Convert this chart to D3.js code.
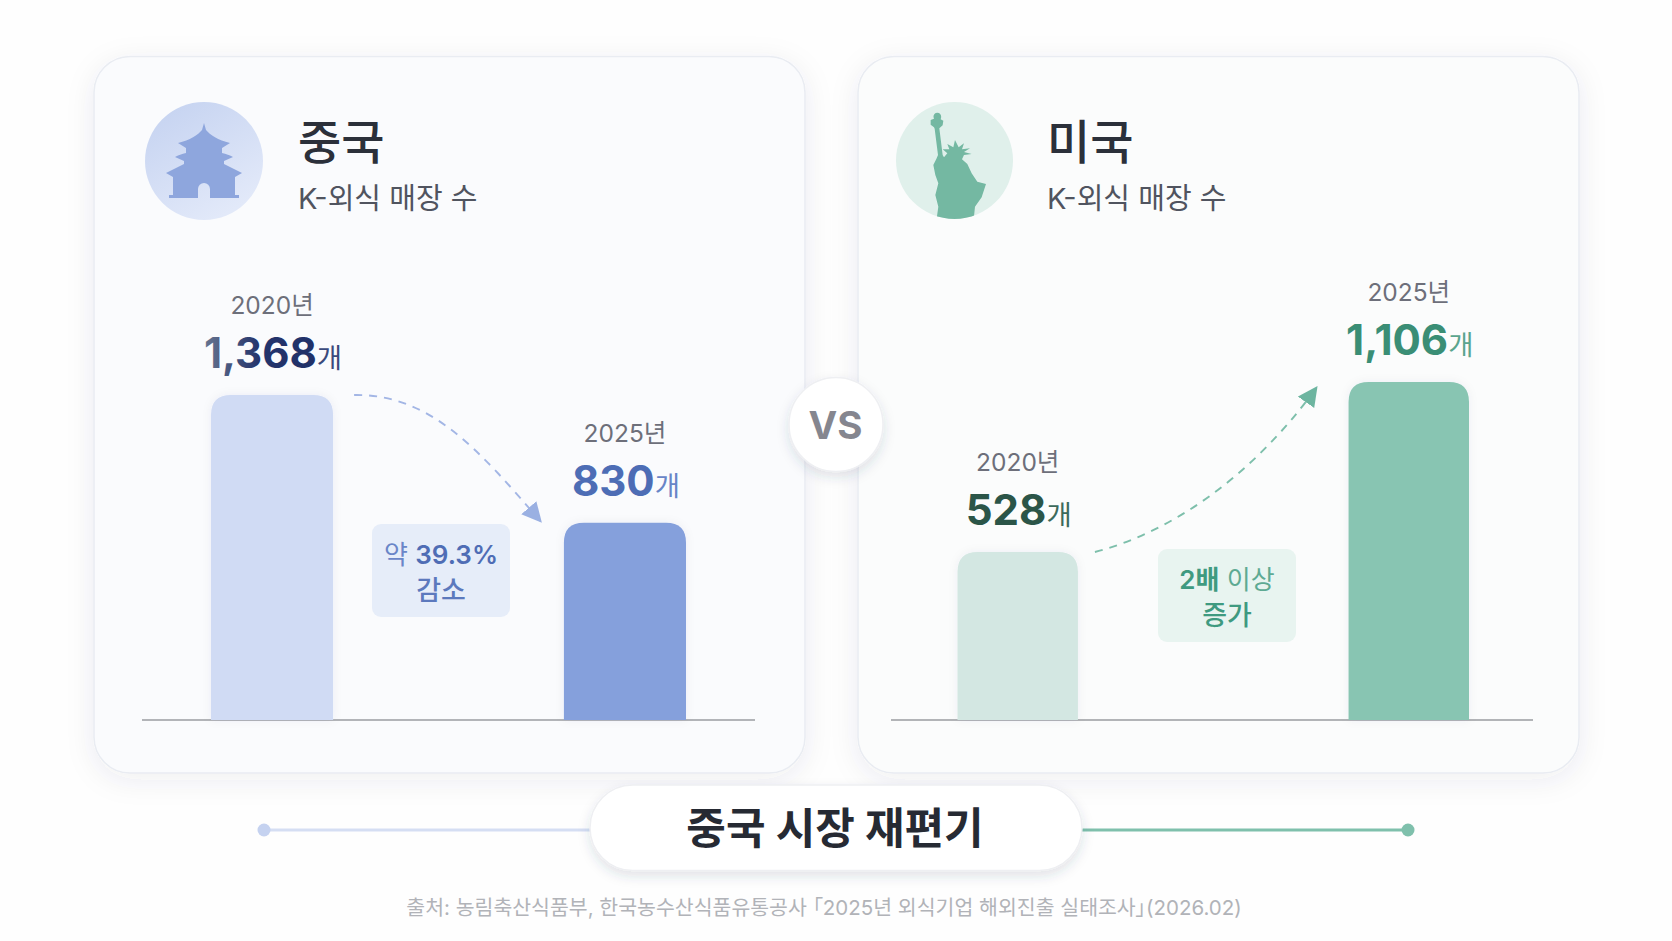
<!DOCTYPE html>
<html lang="ko">
<head>
  <meta charset="utf-8">
  <script src="https://d3js.org/d3.v7.min.js"></script>
  <style>
    body { margin:0; background:#fefefe; }
    svg { display:block; }
    text { font-family:Inter,"Noto Sans CJK KR",sans-serif; }
  </style>
</head>
<body>
  <script>
    // data
    var years = ["2020년", "2025년"];
    var chinaValues = [1368, 830];
    var usValues = [528, 1106];
    var panelSubtitle = "K-외식 매장 수";
    var chartTitle = "중국 시장 재편기";
    var sourceText = "출처: 농림축산식품부, 한국농수산식품유통공사 「2025년 외식기업 해외진출 실태조사」(2026.02)";

    var width = 1672, height = 941;
    var baseY = 720;
    var fmt = d3.format(",");

    var svg = d3.select("body").append("svg")
      .attr("width", width).attr("height", height);
    var defs = svg.append("defs");

    function shadow(id, dy, blur, op) {
      defs.append("filter").attr("id", id)
        .attr("x", "-20%").attr("y", "-20%").attr("width", "140%").attr("height", "140%")
        .append("feDropShadow")
        .attr("dx", 0).attr("dy", dy).attr("stdDeviation", blur)
        .attr("flood-color", "#39405a").attr("flood-opacity", op);
    }
    shadow("cardShadow", 6, 14, 0.08);
    shadow("pillShadow", 5, 6, 0.14);
    shadow("barShadow", 0, 5, 0.06);

    function gradient(id, stops, x2, y2) {
      var g = defs.append("linearGradient").attr("id", id)
        .attr("x1", 0).attr("y1", 0).attr("x2", x2).attr("y2", y2);
      stops.forEach(function(s) {
        g.append("stop").attr("offset", s[0]).attr("stop-color", s[1]);
      });
    }
    gradient("iconBlue", [[0, "#c3d1f0"], [1, "#e2e9f9"]], 0.6, 1);
    gradient("numNavy", [[0, "#66748f"], [0.4, "#24346c"], [1, "#1f2f66"]], 1, 0);

    svg.append("rect").attr("width", width).attr("height", height).attr("fill", "#fefefe");

    // bar with rounded top corners
    function barPath(x, y, w, r) {
      var p = d3.path();
      p.moveTo(x, baseY);
      p.lineTo(x, y + r);
      p.quadraticCurveTo(x, y, x + r, y);
      p.lineTo(x + w - r, y);
      p.quadraticCurveTo(x + w, y, x + w, y + r);
      p.lineTo(x + w, baseY);
      p.closePath();
      return p.toString();
    }

    function arrowHead(id, color) {
      defs.append("marker").attr("id", id)
        .attr("markerUnits", "userSpaceOnUse")
        .attr("markerWidth", 24).attr("markerHeight", 22)
        .attr("refX", 20).attr("refY", 10).attr("orient", "auto")
        .append("path").attr("d", "M0,0 L20,10 L0,20 Z").attr("fill", color);
    }
    arrowHead("headBlue", "#9ab0e2");
    arrowHead("headGreen", "#6db5a0");

    function drawPanel(o) {
      var g = svg.append("g");

      g.append("rect")
        .attr("x", o.card[0]).attr("y", 56.5)
        .attr("width", o.card[1] - o.card[0]).attr("height", 716.5)
        .attr("rx", 36)
        .attr("fill", o.cardFill).attr("stroke", "#e9ecf2").attr("stroke-width", 1.5)
        .attr("filter", "url(#cardShadow)");

      g.append("text").attr("x", o.titleX).attr("y", 159)
        .attr("font-size", 47).attr("font-weight", 500).attr("fill", "#2b303a")
        .text(o.name);
      g.append("text").attr("x", o.titleX).attr("y", 208.5)
        .attr("font-size", 29).attr("fill", "#50545f")
        .text(panelSubtitle);

      var x = d3.scaleBand().domain(years).range(o.barRange)
        .paddingInner(o.inner).paddingOuter(0);
      var y = d3.scaleLinear().domain(o.domain).range([baseY, o.topY]);

      g.append("line")
        .attr("x1", o.axis[0]).attr("x2", o.axis[1])
        .attr("y1", baseY).attr("y2", baseY)
        .attr("stroke", "#9a9ca1").attr("stroke-width", 1.6);

      g.selectAll("path.bar").data(o.values).enter().append("path")
        .attr("class", "bar")
        .attr("d", function(d, i) { return barPath(x(years[i]), y(d), x.bandwidth(), 20); })
        .attr("fill", function(d, i) { return o.barColors[i]; })
        .attr("filter", "url(#barShadow)");

      g.selectAll("text.year").data(o.values).enter().append("text")
        .attr("class", "year")
        .attr("x", function(d, i) { return x(years[i]) + x.bandwidth() / 2; })
        .attr("y", function(d) { return y(d) - 81; })
        .attr("text-anchor", "middle").attr("font-size", 24.5).attr("fill", "#6d6f7a")
        .text(function(d, i) { return years[i]; });

      var val = g.selectAll("text.val").data(o.values).enter().append("text")
        .attr("class", "val")
        .attr("x", function(d, i) { return x(years[i]) + x.bandwidth() / 2 + 1; })
        .attr("y", function(d) { return y(d) - 27; })
        .attr("text-anchor", "middle");
      val.append("tspan")
        .attr("font-size", 42).attr("font-weight", 700)
        .attr("fill", function(d, i) { return o.numColors[i]; })
        .text(function(d) { return fmt(d); });
      val.append("tspan")
        .attr("font-size", 27.5).attr("font-weight", 400)
        .attr("fill", function(d, i) { return o.unitColors[i]; })
        .text("개");

      // dashed change arrow, hung off the two bars
      var a = x(years[0]) + x.bandwidth() + o.gap[0], b = y(o.values[0]);
      var c = x(years[1]) - o.gap[1], e = y(o.values[1]) + o.gap[2];
      var p = d3.path();
      p.moveTo(a, b);
      p.bezierCurveTo(a + o.bend[0] * (c - a), b + o.bend[1] * (e - b),
                      a + o.bend[2] * (c - a), b + o.bend[3] * (e - b), c, e);
      g.append("path").attr("d", p.toString())
        .attr("fill", "none").attr("stroke", o.arrowColor)
        .attr("stroke-width", 1.9).attr("stroke-dasharray", "8 7")
        .attr("marker-end", "url(#" + o.head + ")");

      // change badge
      g.append("rect")
        .attr("x", o.badge[0]).attr("y", o.badge[1])
        .attr("width", 138).attr("height", 93).attr("rx", 9)
        .attr("fill", o.badgeFill);
      var l1 = g.append("text")
        .attr("x", o.badge[0] + 69).attr("y", o.badge[1] + 39.5)
        .attr("text-anchor", "middle").attr("font-size", 26);
      o.badgeLine1.forEach(function(s) {
        l1.append("tspan").attr("font-weight", s[1]).attr("fill", s[2]).text(s[0]);
      });
      g.append("text")
        .attr("x", o.badge[0] + 69).attr("y", o.badge[1] + 75.5)
        .attr("text-anchor", "middle").attr("font-size", 27)
        .attr("font-weight", 500).attr("fill", o.badgeLine2[1])
        .text(o.badgeLine2[0]);
    }

    drawPanel({
      name: "중국", card: [94, 805], cardFill: "#fafbfd", titleX: 298,
      values: chinaValues, barRange: [211, 686], inner: 0.654,
      domain: [0, 1368], topY: 395, axis: [142, 755],
      barColors: ["#d0dbf4", "#85a0dc"],
      numColors: ["url(#numNavy)", "#4d6db5"], unitColors: ["#3b4a7c", "#6885c7"],
      gap: [21, 22, 0], bend: [0.41, -0.01, 0.67, 0.44],
      arrowColor: "#a3b6e5", head: "headBlue",
      badge: [372, 524], badgeFill: "#e6edf9",
      badgeLine1: [["약 ", 400, "#6a86c8"], ["39.3%", 600, "#4f6db5"]],
      badgeLine2: ["감소", "#5c79bd"]
    });

    // the picture's two US bars are not quite in proportion, so the baseline sits a little under zero
    drawPanel({
      name: "미국", card: [858, 1579], cardFill: "#fbfcfc", titleX: 1047,
      values: usValues, barRange: [957.5, 1469], inner: 0.692,
      domain: [-43, 1106], topY: 382, axis: [891, 1533],
      barColors: ["#d3e7e2", "#88c5b2"],
      numColors: ["#2b5548", "#3a8e75"], unitColors: ["#3c6a5c", "#5aa58e"],
      gap: [17, 31, 4], bend: [0.45, 0.16, 0.8, 0.62],
      arrowColor: "#7dbfab", head: "headGreen",
      badge: [1158, 549], badgeFill: "#e8f4f0",
      badgeLine1: [["2배", 600, "#3f9a80"], [" 이상", 400, "#5eaa93"]],
      badgeLine2: ["증가", "#3f9a80"]
    });

    // icons
    var blueIcon = svg.append("g").attr("transform", "translate(204,161)");
    blueIcon.append("circle").attr("r", 59).attr("fill", "url(#iconBlue)");
    blueIcon.append("path")
      .attr("fill-rule", "evenodd").attr("fill", "#8ea6dd")
      .attr("d", "M0,-38 L2,-31 C6,-26 14,-21 26,-18 L18,-13 L18,-8 C22,-7 26,-6 29,-4 L20,0 L20,3 " +
                 "C26,6 32,9 38,12 L31,16 V34 H35 V37 H-35 V34 H-31 V16 L-38,12 " +
                 "C-32,9 -26,6 -20,3 L-20,0 L-29,-4 C-26,-6 -22,-7 -18,-8 L-18,-13 L-26,-18 " +
                 "C-14,-21 -6,-26 -2,-31 Z M-6,37 V28 A6,6 0 0 1 6,28 V37 Z");

    var greenIcon = svg.append("g");
    defs.append("clipPath").attr("id", "usClip").append("circle")
      .attr("cx", 954.5).attr("cy", 160.5).attr("r", 58.5);
    greenIcon.append("circle").attr("cx", 954.5).attr("cy", 160.5).attr("r", 58.5).attr("fill", "#e0f0eb");
    greenIcon.append("g").attr("clip-path", "url(#usClip)")
      .append("path")
      .attr("transform", "translate(860,60) scale(0.3333)")
      .attr("fill", "#74b8a2")
      .attr("d", "M232,158 C222,158 218,168 222,176 L212,180 L212,194 L222,202 L224,206 L234,285 L230,295 " +
                 "L220,315 L226,345 L235,370 L226,405 L235,440 L228,490 L340,490 L345,440 L365,412 L378,372 " +
                 "L352,365 L335,340 L322,312 L306,298 L312,285 L335,282 L312,276 L330,265 L306,268 L312,250 " +
                 "L296,262 L285,240 L280,262 L262,252 L268,268 L248,268 L262,280 L252,292 L248,285 L238,205 " +
                 "L248,196 L250,182 L242,178 C246,168 242,158 232,158 Z");

    // VS badge
    svg.append("circle").attr("cx", 836).attr("cy", 424.5).attr("r", 47)
      .attr("fill", "#ffffff").attr("stroke", "#eeeff2").attr("stroke-width", 1.5)
      .attr("filter", "url(#pillShadow)");
    svg.append("text").attr("x", 835.5).attr("y", 439)
      .attr("text-anchor", "middle").attr("font-size", 38.5).attr("font-weight", 700)
      .attr("fill", "#85868f").text("VS");

    // bottom connector and title pill
    svg.append("line").attr("x1", 264).attr("x2", 590).attr("y1", 830).attr("y2", 830)
      .attr("stroke", "#d5def3").attr("stroke-width", 3);
    svg.append("circle").attr("cx", 264).attr("cy", 830).attr("r", 6.5).attr("fill", "#c5d2f0");
    svg.append("line").attr("x1", 1082).attr("x2", 1408).attr("y1", 830).attr("y2", 830)
      .attr("stroke", "#7fc0ac").attr("stroke-width", 3);
    svg.append("circle").attr("cx", 1408).attr("cy", 830).attr("r", 6.5).attr("fill", "#7fc0ac");

    svg.append("rect").attr("x", 590).attr("y", 785)
      .attr("width", 492).attr("height", 85.5).attr("rx", 42.75)
      .attr("fill", "#ffffff").attr("stroke", "#eeeff2").attr("stroke-width", 1.5)
      .attr("filter", "url(#pillShadow)");
    svg.append("text").attr("x", 835).attr("y", 844)
      .attr("text-anchor", "middle").attr("font-size", 43).attr("font-weight", 700)
      .attr("fill", "#262a33").text(chartTitle);

    svg.append("text").attr("x", 824).attr("y", 914.5)
      .attr("text-anchor", "middle").attr("font-size", 20.5)
      .style("font-feature-settings", "'palt'")
      .attr("fill", "#b1b3b8").text(sourceText);
  </script>
</body>
</html>
